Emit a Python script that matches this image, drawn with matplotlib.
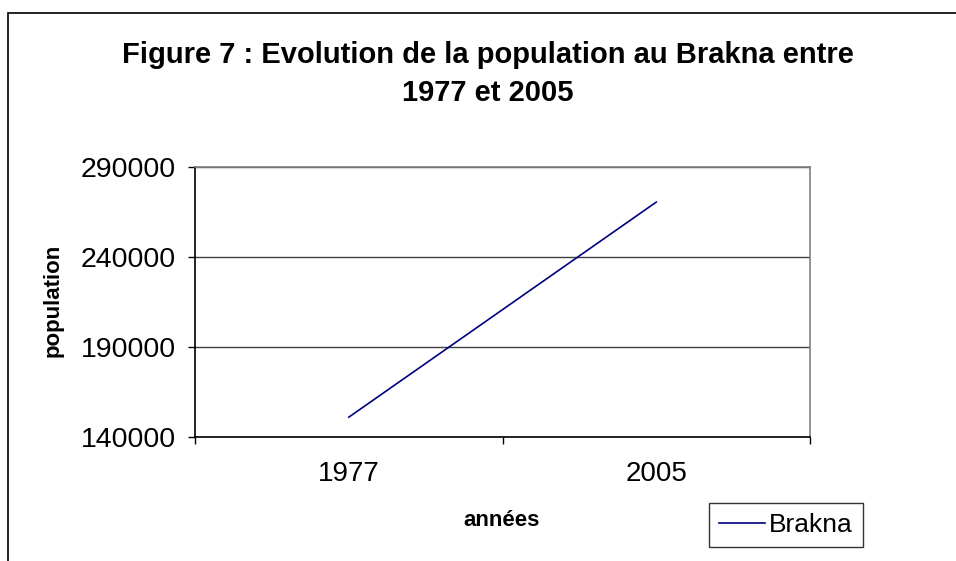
import matplotlib
matplotlib.use('Agg')
import matplotlib.pyplot as plt
from matplotlib.patches import Rectangle

plt.rcParams['font.family'] = ['Liberation Sans', 'DejaVu Sans']

# data
annees = ['1977', '2005']
population = [151000, 270500]
yticks = [140000, 190000, 240000, 290000]

W, H = 956, 561
fig = plt.figure(figsize=(W / 100, H / 100), dpi=100)

# chart frame (left and top edges visible, rest off-canvas)
fig.add_artist(Rectangle((7.5 / W, -0.2), 1.2, (H - 13) / H + 0.2,
                         transform=fig.transFigure, fill=False,
                         edgecolor='black', linewidth=1.2))

ax = fig.add_axes([195 / W, (H - 437) / H, (810 - 195) / W, (437 - 167) / H])
x = list(range(len(annees)))
ax.plot(x, population, color='#000080', linewidth=1.2, label='Brakna')

ax.set_xlim(-0.5, len(annees) - 0.5)
ax.set_ylim(yticks[0], yticks[-1])
ax.set_yticks(yticks)
ax.set_yticklabels([str(v) for v in yticks])
ax.set_xticks(x)
ax.set_xticklabels(annees)
ax.set_xticks([i - 0.5 for i in range(len(annees) + 1)], minor=True)

ax.tick_params(axis='y', direction='out', length=5, width=1, pad=9,
               labelsize=20.5, colors='black')
ax.tick_params(axis='x', which='major', length=0, pad=17, labelsize=20)
ax.tick_params(axis='x', which='minor', direction='out', length=5, width=1)

ax.yaxis.grid(True, color='#404040', linewidth=1)
for s in ['top', 'right']:
    ax.spines[s].set_color('#808080')
for s in ['left', 'bottom']:
    ax.spines[s].set_color('black')
for s in ax.spines.values():
    s.set_linewidth(1.2)

fig.text(488 / W, 1 - 63 / H, 'Figure 7 : Evolution de la population au Brakna entre',
         ha='center', va='baseline', fontsize=21, fontweight='bold')
fig.text(488 / W, 1 - 101 / H, '1977 et 2005',
         ha='center', va='baseline', fontsize=21, fontweight='bold')

fig.text(53 / W, 1 - 300 / H, 'population', rotation=90, ha='center', va='center',
         fontsize=16, fontweight='bold')
fig.text(502 / W, 1 - 521 / H, 'années', ha='center', va='center',
         fontsize=16, fontweight='bold')

leg = fig.legend(loc='lower left', bbox_to_anchor=(709 / W, (H - 547) / H),
                 fontsize=19, frameon=True, fancybox=False, shadow=False,
                 handlelength=1.75, handletextpad=0.15, borderpad=0.38,
                 borderaxespad=0)
leg.get_frame().set_edgecolor('black')
leg.get_frame().set_linewidth(1)

fig.savefig('out.png', dpi=100)
